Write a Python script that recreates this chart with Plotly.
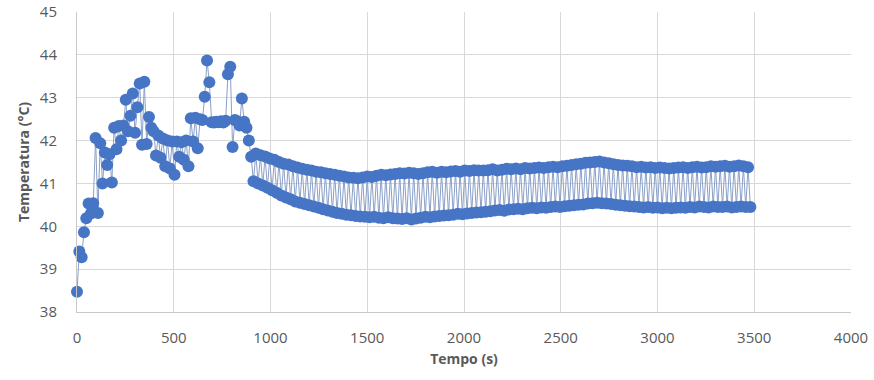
import plotly.graph_objects as go

# Sampling: one reading every 12 s
time_s = list(range(0, 3481, 12))

# Readings 0 s .. 912 s
early_temps = [
    38.47, 39.41, 39.28, 39.86, 40.19, 40.53, 40.30, 40.54, 42.06, 40.31,
    41.94, 41.00, 41.72, 41.43, 41.68, 41.02, 42.30, 41.80, 42.34, 42.00,
    42.35, 42.95, 42.22, 42.58, 43.10, 42.18, 42.78, 43.33, 41.90, 43.37,
    41.92, 42.55, 42.30, 42.22, 41.65, 42.12, 41.60, 42.05, 41.40, 42.00,
    41.35, 41.98, 41.20, 41.98, 41.62, 41.96, 41.55, 42.00, 41.40, 42.52,
    41.98, 42.53, 41.82, 42.50, 42.48, 43.02, 43.87, 43.36, 42.43, 42.42,
    42.44, 42.43, 42.45, 42.42, 42.46, 43.55, 43.72, 41.85, 42.48, 42.45,
    42.35, 42.98, 42.44, 42.30, 42.00, 41.62, 41.05,
]

# Alternating readings from 924 s on: upper / lower values of each pair
band_upper = [
    41.70, 41.66, 41.63, 41.58, 41.55, 41.50, 41.46, 41.44, 41.40, 41.37,
    41.34, 41.32, 41.30, 41.27, 41.26, 41.24, 41.22, 41.20, 41.18, 41.16,
    41.14, 41.13, 41.12, 41.14, 41.16, 41.15, 41.18, 41.20, 41.19, 41.21,
    41.22, 41.24, 41.23, 41.25, 41.24, 41.22, 41.24, 41.26, 41.27, 41.25,
    41.27, 41.26, 41.28, 41.29, 41.27, 41.30, 41.29, 41.31, 41.30, 41.30,
    41.31, 41.33, 41.30, 41.32, 41.34, 41.33, 41.35, 41.33, 41.36, 41.35,
    41.36, 41.37, 41.36, 41.38, 41.39, 41.38, 41.40, 41.41, 41.43, 41.45,
    41.46, 41.48, 41.49, 41.50, 41.51, 41.49, 41.47, 41.45, 41.43, 41.42,
    41.41, 41.40, 41.38, 41.39, 41.37, 41.38, 41.36, 41.37, 41.36, 41.35,
    41.36, 41.37, 41.38, 41.36, 41.38, 41.39, 41.37, 41.38, 41.40, 41.39,
    41.40, 41.41, 41.39, 41.40, 41.42, 41.40, 41.38,
]
band_lower = [
    41.00, 40.95, 40.90, 40.84, 40.78, 40.72, 40.67, 40.63, 40.58, 40.55,
    40.52, 40.49, 40.46, 40.43, 40.40, 40.37, 40.34, 40.31, 40.29, 40.27,
    40.26, 40.24, 40.23, 40.22, 40.21, 40.22, 40.20, 40.19, 40.21, 40.19,
    40.18, 40.17, 40.19, 40.16, 40.18, 40.20, 40.22, 40.21, 40.23, 40.24,
    40.25, 40.26, 40.27, 40.29, 40.28, 40.30, 40.31, 40.32, 40.33, 40.34,
    40.35, 40.37, 40.38, 40.36, 40.39, 40.40, 40.41, 40.40, 40.42, 40.43,
    40.42, 40.44, 40.43, 40.45, 40.46, 40.45, 40.47, 40.48, 40.49, 40.50,
    40.51, 40.53, 40.54, 40.55, 40.54, 40.53, 40.52, 40.50, 40.49, 40.48,
    40.47, 40.46, 40.45, 40.44, 40.45, 40.43, 40.44, 40.42, 40.43, 40.42,
    40.43, 40.44, 40.43, 40.45, 40.44, 40.46, 40.45, 40.44, 40.46, 40.45,
    40.45, 40.46, 40.44, 40.45, 40.46, 40.45, 40.45,
]

temperature_c = list(early_temps)
for u, l in zip(band_upper, band_lower):
    temperature_c.append(u)
    temperature_c.append(l)

x_ticks = [0, 500, 1000, 1500, 2000, 2500, 3000, 3500, 4000]
y_ticks = [38, 39, 40, 41, 42, 43, 44, 45]

x_title = "Tempo (s)"
y_title = "Temperatura (°C)"

FONT = "Open Sans"
GRAY = "#595959"

fig = go.Figure()
fig.add_trace(go.Scatter(
    x=time_s[:len(temperature_c)],
    y=temperature_c,
    mode="lines+markers",
    line=dict(color="#8aa0c8", width=1),
    marker=dict(color="#4775C5", size=12, line=dict(width=0)),
    showlegend=False,
    hoverinfo="x+y",
    cliponaxis=False,
))

fig.update_layout(
    width=874, height=380,
    margin=dict(l=77, r=23, t=12, b=68, autoexpand=False),
    paper_bgcolor="white",
    plot_bgcolor="white",
    font=dict(family=FONT, color=GRAY, size=15),
    xaxis=dict(
        range=[0, 4000], tickvals=x_ticks, automargin=False,
        showgrid=True, gridcolor="#d9d9d9", gridwidth=1,
        zeroline=False, showline=True, linecolor="#c8c8c8", linewidth=1,
        ticks="", ticklabelstandoff=12, ticklabeloverflow="allow",
        tickfont=dict(family=FONT, size=15, color=GRAY),
        title=dict(text=x_title, font=dict(family=FONT, size=14, color=GRAY, weight="bold"), standoff=8),
    ),
    yaxis=dict(
        range=[38, 45], tickvals=y_ticks, automargin=False,
        showgrid=True, gridcolor="#d9d9d9", gridwidth=1,
        zeroline=False, showline=True, linecolor="#c8c8c8", linewidth=1,
        ticks="", ticklabelstandoff=16, ticklabeloverflow="allow",
        tickfont=dict(family=FONT, size=15, color=GRAY),
        title=dict(text=y_title, font=dict(family=FONT, size=14, color=GRAY, weight="bold"), standoff=6),
    ),
)

fig.write_html(
    "out.html",
    config={"displayModeBar": False},
    post_script="document.body.style.margin='0';document.body.style.padding='0';",
)
